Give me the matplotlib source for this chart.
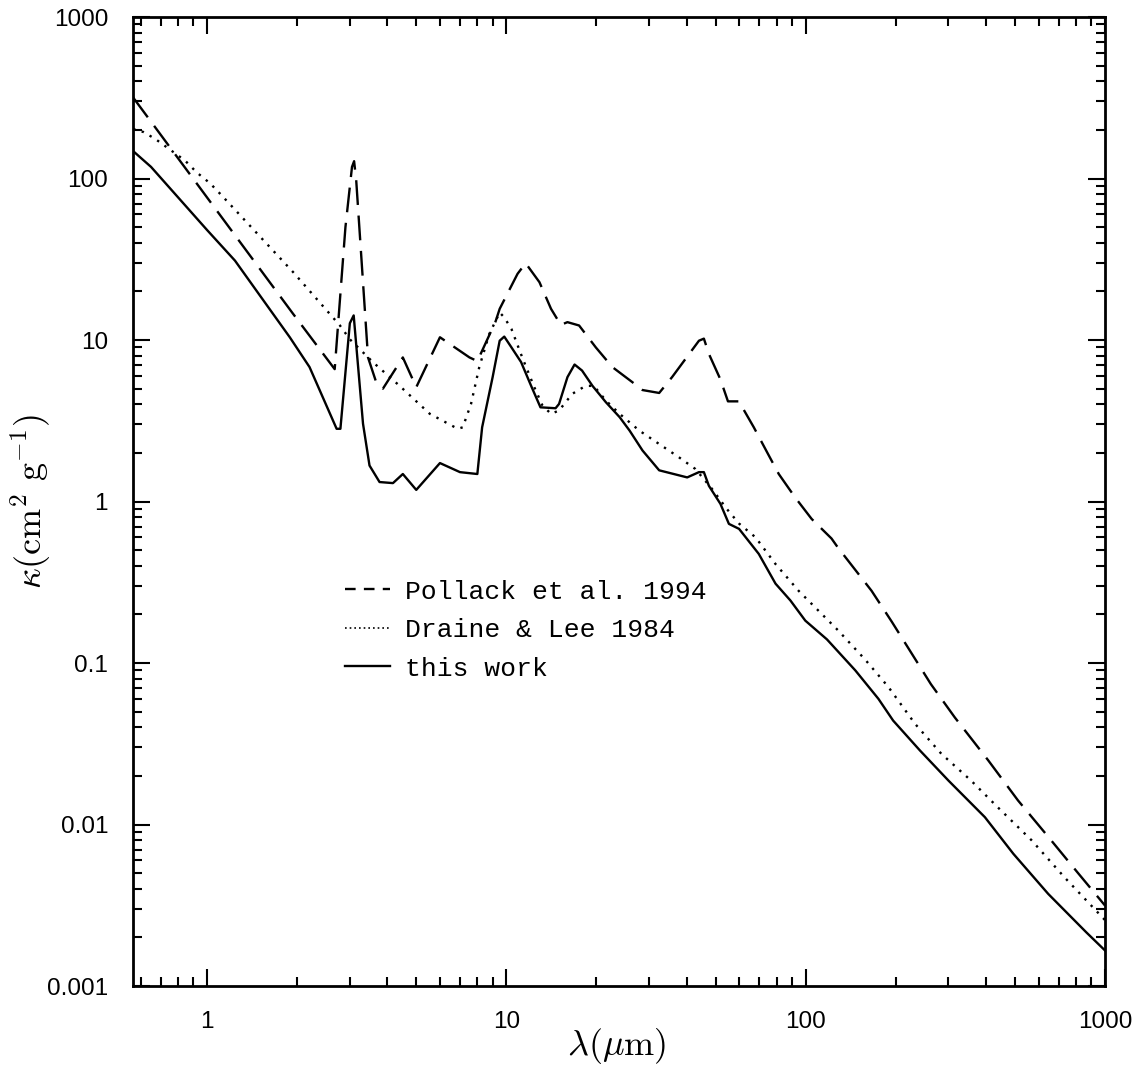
#!/usr/bin/env python3

import matplotlib
matplotlib.use("Agg")
import matplotlib.pyplot as plt
from matplotlib.ticker import FixedLocator, LogLocator, NullFormatter


# wavelength (micron) / mass opacity (cm^2 g^-1)
lam_pollack = [0.566, 1.94, 2.67, 2.9, 3.05, 3.1, 3.15, 3.45, 3.66, 3.87, 4.51, 5.0,
               6.0, 7.53, 8.0, 9.2, 9.5, 10.9, 11.6, 12.9, 14.1, 15.2, 16.0, 17.5,
               19.9, 22.6, 26.3, 28.5, 32.4, 35.8, 44.0, 45.7, 47.5, 51.9, 55.0,
               59.9, 60.6, 67.1, 74.3, 81.3, 92.2, 104.7, 122.0, 128.0, 166.0,
               194.0, 262.0, 315.0, 407.0, 512.0, 646.0, 813.0, 1000.0]
kap_pollack = [318.0, 14.5, 6.6, 50.0, 118.0, 128.0, 98.0, 7.8, 5.6, 5.0, 7.8, 5.1,
               10.4, 7.8, 7.4, 13.0, 15.6, 25.7, 29.9, 22.8, 15.6, 12.4, 12.9, 12.3,
               9.0, 6.8, 5.5, 4.9, 4.7, 5.9, 9.9, 10.2, 8.2, 5.7, 4.17,
               4.17, 4.0, 2.88, 2.02, 1.48, 1.06, 0.78, 0.59, 0.52, 0.28,
               0.18, 0.074, 0.046, 0.025, 0.0141, 0.0084, 0.005, 0.00315]

lam_draine = [0.566, 0.613, 0.671, 0.734, 0.845, 0.924, 1.023, 1.12, 1.94, 2.78, 3.0,
              3.58, 4.4, 5.55, 6.88, 7.15, 7.62, 8.12, 8.77, 9.5, 9.84, 10.4, 11.3,
              12.4, 13.2, 14.1, 15.0, 16.6, 18.4, 19.6, 21.5, 23.9, 27.8, 32.4,
              37.7, 42.8, 48.6, 54.5, 59.9, 68.0, 79.3, 94.7, 128.0, 158.0, 189.0,
              232.0, 284.0, 357.0, 438.0, 568.0, 733.0, 1000.0]
kap_draine = [203.0, 194.0, 176.0, 156.0, 129.0, 109.0, 93.5, 78.5, 26.3, 12.3, 10.1,
              7.3, 5.2, 3.49, 2.82, 2.88, 4.02, 6.8, 10.9, 14.8, 13.8, 11.7, 7.8,
              5.1, 3.93, 3.49, 3.66, 4.64, 5.2, 5.2, 4.22, 3.49, 2.75, 2.27,
              1.88, 1.59, 1.2, 0.9, 0.73, 0.6, 0.41, 0.28, 0.16, 0.105, 0.071,
              0.042, 0.0274, 0.0187, 0.0128, 0.008, 0.0047, 0.00256]

lam_this = [0.566, 0.65, 1.0, 1.24, 1.62, 1.89, 2.2, 2.71, 2.79, 3.0, 3.09, 3.32,
            3.49, 3.77, 4.18, 4.51, 5.0, 6.0, 7.0, 8.0, 8.3, 9.0, 9.5, 9.84, 10.4,
            11.2, 12.1, 13.0, 14.6, 15.0, 16.0, 16.9, 17.9, 19.4, 21.5, 23.9, 25.8,
            28.5, 32.4, 40.2, 44.0, 45.7, 47.5, 51.9, 55.4, 59.9, 69.7, 79.3, 88.9,
            99.7, 117.8, 146.5, 175.0, 196.0, 241.0, 300.0, 397.0, 494.0, 646.0,
            866.0, 1000.0]
kap_this = [148.0, 118.0, 48.0, 31.0, 15.5, 10.4, 6.8, 2.82, 2.82, 12.7, 14.2, 3.03,
            1.67, 1.32, 1.30, 1.48, 1.18, 1.73, 1.52, 1.48, 2.88, 5.9, 9.9, 10.5, 9.0,
            7.3, 5.2, 3.83, 3.78, 4.02, 5.89, 7.05, 6.47, 5.2, 4.12, 3.33, 2.75,
            2.07, 1.56, 1.41, 1.52, 1.52, 1.25, 0.967, 0.727, 0.677, 0.474, 0.31, 0.244,
            0.183, 0.14, 0.09, 0.06, 0.044, 0.0287, 0.0187, 0.0111, 0.00659, 0.00372,
            0.00215, 0.00166]

labels = ["Pollack et al. 1994", "Draine & Lee 1984", "this work"]
x_ticks = [1, 10, 100, 1000]
y_ticks = [0.001, 0.01, 0.1, 1, 10, 100, 1000]
y_tick_labels = ["0.001", "0.01", "0.1", "1", "10", "100", "1000"]

plt.rcParams["mathtext.fontset"] = "cm"

fig = plt.figure(figsize=(11.42, 10.90), dpi=100)
ax = fig.add_axes([0.1165, 0.0954, 0.8511, 0.8890])

lw = 1.7
ax.plot(lam_pollack, kap_pollack, color="black", lw=lw, dashes=(10.5, 4.5), label=labels[0])
ax.plot(lam_draine, kap_draine, color="black", lw=lw, dashes=(1, 2.8), label=labels[1])
ax.plot(lam_this, kap_this, color="black", lw=lw, label=labels[2])

ax.set_xscale("log")
ax.set_yscale("log")
ax.set_xlim(0.566, 1000)
ax.set_ylim(0.001, 1000)

ax.xaxis.set_major_locator(FixedLocator(x_ticks))
ax.set_xticklabels([str(t) for t in x_ticks])
ax.xaxis.set_minor_locator(LogLocator(base=10, subs=range(2, 10), numticks=20))
ax.xaxis.set_minor_formatter(NullFormatter())
ax.yaxis.set_major_locator(FixedLocator(y_ticks))
ax.set_yticklabels(y_tick_labels)
ax.yaxis.set_minor_locator(LogLocator(base=10, subs=range(2, 10), numticks=20))
ax.yaxis.set_minor_formatter(NullFormatter())

for side in ax.spines.values():
    side.set_linewidth(2.0)
ax.tick_params(which="both", direction="in", top=True, right=True, width=1.5)
ax.tick_params(which="major", length=12.5)
ax.tick_params(which="minor", length=6.5)
ax.tick_params(axis="x", which="major", pad=18)
ax.tick_params(axis="y", which="major", pad=18)
for lab in ax.get_xticklabels() + ax.get_yticklabels():
    lab.set_fontfamily("Liberation Sans")
    lab.set_fontsize(17.5)

fig.text(0.540, 0.022, r"$\lambda(\mu\mathrm{m})$", ha="center", va="bottom", fontsize=26)
fig.text(0.008, 0.54, r"$\kappa(\mathrm{cm^2\ g^{-1}})$", ha="left", va="center",
         rotation=90, fontsize=26)

leg = ax.legend(loc="upper left", bbox_to_anchor=(0.205, 0.433), frameon=False,
                handlelength=1.7, handletextpad=0.55, labelspacing=0.55, borderpad=0,
                prop={"family": "Liberation Mono", "size": 19})
handles = leg.get_lines()
handles[0].set_dashes((4.5, 3.5))
handles[1].set_dashes((1, 1.8))
handles[1].set_linewidth(1.2)

fig.savefig("out.png", dpi=100)
